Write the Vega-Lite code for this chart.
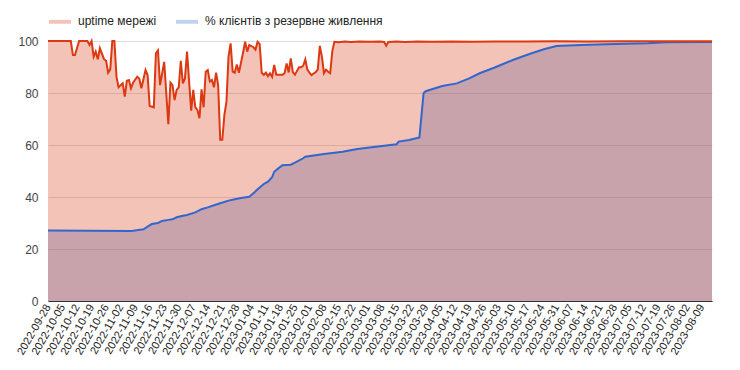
{
  "$schema": "https://vega.github.io/schema/vega-lite/v6.json",
  "width": 664,
  "height": 260,
  "autosize": {"type": "none"},
  "padding": {"left": 48, "top": 41, "right": 28, "bottom": 69},
  "background": "white",
  "config": {
    "view": {"stroke": null},
    "font": "Liberation Sans",
    "axis": {"labelFont": "Liberation Sans", "labelColor": "#444", "ticks": false, "gridColor": "#dddddd", "gridOpacity": 1},
    "legend": {"labelFont": "Liberation Sans", "labelColor": "#222", "labelFontSize": 12}
  },
  "datasets": {
    "uptime": [
      {"date": "2022-09-28", "value": 100}, {"date": "2022-10-09", "value": 100}, {"date": "2022-10-10", "value": 94.6}, {"date": "2022-10-11", "value": 94.6},
      {"date": "2022-10-13", "value": 100}, {"date": "2022-10-17", "value": 100}, {"date": "2022-10-18", "value": 98.5}, {"date": "2022-10-19", "value": 100},
      {"date": "2022-10-20", "value": 94}, {"date": "2022-10-21", "value": 95.9}, {"date": "2022-10-22", "value": 93}, {"date": "2022-10-23", "value": 97.2},
      {"date": "2022-10-25", "value": 93}, {"date": "2022-10-26", "value": 92.4}, {"date": "2022-10-27", "value": 87.8}, {"date": "2022-10-28", "value": 89.1},
      {"date": "2022-10-29", "value": 100}, {"date": "2022-10-30", "value": 100}, {"date": "2022-10-31", "value": 86.3}, {"date": "2022-11-01", "value": 82.2},
      {"date": "2022-11-03", "value": 83.7}, {"date": "2022-11-04", "value": 78.6}, {"date": "2022-11-05", "value": 84.7}, {"date": "2022-11-06", "value": 85},
      {"date": "2022-11-07", "value": 81.8}, {"date": "2022-11-08", "value": 84}, {"date": "2022-11-10", "value": 86.3}, {"date": "2022-11-11", "value": 85.6},
      {"date": "2022-11-12", "value": 81.8}, {"date": "2022-11-14", "value": 88.8}, {"date": "2022-11-15", "value": 86.9}, {"date": "2022-11-16", "value": 75},
      {"date": "2022-11-18", "value": 74.5}, {"date": "2022-11-19", "value": 95.3}, {"date": "2022-11-20", "value": 96.4}, {"date": "2022-11-21", "value": 83},
      {"date": "2022-11-23", "value": 92}, {"date": "2022-11-25", "value": 68}, {"date": "2022-11-26", "value": 84}, {"date": "2022-11-27", "value": 83},
      {"date": "2022-11-28", "value": 77.3}, {"date": "2022-11-29", "value": 81.2}, {"date": "2022-11-30", "value": 82.2}, {"date": "2022-12-01", "value": 92.4},
      {"date": "2022-12-02", "value": 83.7}, {"date": "2022-12-03", "value": 85.6}, {"date": "2022-12-04", "value": 95.9}, {"date": "2022-12-06", "value": 73.2},
      {"date": "2022-12-07", "value": 81.2}, {"date": "2022-12-08", "value": 74.5}, {"date": "2022-12-09", "value": 73.5}, {"date": "2022-12-10", "value": 70.3},
      {"date": "2022-12-11", "value": 81.4}, {"date": "2022-12-12", "value": 74.5}, {"date": "2022-12-13", "value": 88.2}, {"date": "2022-12-14", "value": 88.8},
      {"date": "2022-12-15", "value": 84.4}, {"date": "2022-12-16", "value": 85}, {"date": "2022-12-17", "value": 82.2}, {"date": "2022-12-18", "value": 87.8},
      {"date": "2022-12-19", "value": 83}, {"date": "2022-12-20", "value": 62}, {"date": "2022-12-21", "value": 62}, {"date": "2022-12-22", "value": 71.5},
      {"date": "2022-12-23", "value": 76.7}, {"date": "2022-12-24", "value": 94}, {"date": "2022-12-25", "value": 99.1}, {"date": "2022-12-26", "value": 88.2},
      {"date": "2022-12-27", "value": 87.8}, {"date": "2022-12-28", "value": 91}, {"date": "2022-12-29", "value": 87.8}, {"date": "2022-12-31", "value": 95.5},
      {"date": "2023-01-01", "value": 99.7}, {"date": "2023-01-02", "value": 95.9}, {"date": "2023-01-03", "value": 98.5}, {"date": "2023-01-05", "value": 97.6},
      {"date": "2023-01-06", "value": 96.7}, {"date": "2023-01-07", "value": 99.7}, {"date": "2023-01-08", "value": 98.8}, {"date": "2023-01-09", "value": 87.8},
      {"date": "2023-01-10", "value": 87}, {"date": "2023-01-11", "value": 87.8}, {"date": "2023-01-12", "value": 86.5}, {"date": "2023-01-13", "value": 87.6},
      {"date": "2023-01-14", "value": 86.2}, {"date": "2023-01-15", "value": 90.8}, {"date": "2023-01-16", "value": 87}, {"date": "2023-01-18", "value": 87},
      {"date": "2023-01-19", "value": 87}, {"date": "2023-01-20", "value": 87.6}, {"date": "2023-01-21", "value": 91.4}, {"date": "2023-01-22", "value": 87.9},
      {"date": "2023-01-23", "value": 93.3}, {"date": "2023-01-24", "value": 88}, {"date": "2023-01-25", "value": 87}, {"date": "2023-01-26", "value": 88.5},
      {"date": "2023-01-27", "value": 89.9}, {"date": "2023-01-28", "value": 89.9}, {"date": "2023-01-29", "value": 90.5}, {"date": "2023-01-30", "value": 92.9},
      {"date": "2023-01-31", "value": 89}, {"date": "2023-02-01", "value": 87.8}, {"date": "2023-02-02", "value": 86.9}, {"date": "2023-02-03", "value": 87.5},
      {"date": "2023-02-04", "value": 88}, {"date": "2023-02-05", "value": 89}, {"date": "2023-02-06", "value": 98.1}, {"date": "2023-02-07", "value": 94},
      {"date": "2023-02-08", "value": 87.6}, {"date": "2023-02-09", "value": 89}, {"date": "2023-02-10", "value": 88.2}, {"date": "2023-02-11", "value": 87.6},
      {"date": "2023-02-12", "value": 96}, {"date": "2023-02-13", "value": 99.7}, {"date": "2023-02-15", "value": 99.5}, {"date": "2023-02-18", "value": 99.8},
      {"date": "2023-02-21", "value": 99.6}, {"date": "2023-02-25", "value": 99.8}, {"date": "2023-03-02", "value": 99.7}, {"date": "2023-03-07", "value": 99.8},
      {"date": "2023-03-09", "value": 99.6}, {"date": "2023-03-10", "value": 98.2}, {"date": "2023-03-11", "value": 99.6}, {"date": "2023-03-15", "value": 99.8},
      {"date": "2023-03-19", "value": 99.6}, {"date": "2023-03-25", "value": 99.8}, {"date": "2023-04-01", "value": 99.7}, {"date": "2023-04-11", "value": 99.8},
      {"date": "2023-04-21", "value": 99.7}, {"date": "2023-05-01", "value": 99.8}, {"date": "2023-05-16", "value": 99.8}, {"date": "2023-05-31", "value": 99.9},
      {"date": "2023-06-15", "value": 99.8}, {"date": "2023-07-01", "value": 99.9}, {"date": "2023-07-15", "value": 99.9}, {"date": "2023-07-30", "value": 99.9},
      {"date": "2023-08-14", "value": 99.9}
    ],
    "backup": [
      {"date": "2022-09-28", "value": 27.1}, {"date": "2022-10-18", "value": 27.0}, {"date": "2022-11-07", "value": 26.9}, {"date": "2022-11-08", "value": 27.0},
      {"date": "2022-11-13", "value": 27.6}, {"date": "2022-11-15", "value": 28.6}, {"date": "2022-11-17", "value": 29.6}, {"date": "2022-11-20", "value": 30},
      {"date": "2022-11-22", "value": 30.8}, {"date": "2022-11-25", "value": 31.2}, {"date": "2022-11-27", "value": 31.4}, {"date": "2022-11-29", "value": 32.2},
      {"date": "2022-12-02", "value": 32.8}, {"date": "2022-12-04", "value": 33.1}, {"date": "2022-12-08", "value": 34.1}, {"date": "2022-12-11", "value": 35.3},
      {"date": "2022-12-14", "value": 36}, {"date": "2022-12-17", "value": 36.8}, {"date": "2022-12-20", "value": 37.6}, {"date": "2022-12-24", "value": 38.6},
      {"date": "2022-12-27", "value": 39.1}, {"date": "2022-12-30", "value": 39.6}, {"date": "2023-01-03", "value": 40.1}, {"date": "2023-01-05", "value": 41.4},
      {"date": "2023-01-07", "value": 43}, {"date": "2023-01-10", "value": 45}, {"date": "2023-01-12", "value": 45.9}, {"date": "2023-01-14", "value": 47.6},
      {"date": "2023-01-15", "value": 49.7}, {"date": "2023-01-17", "value": 51}, {"date": "2023-01-19", "value": 52.2}, {"date": "2023-01-23", "value": 52.4},
      {"date": "2023-01-25", "value": 53.2}, {"date": "2023-01-29", "value": 54.9}, {"date": "2023-01-30", "value": 55.5}, {"date": "2023-02-08", "value": 56.5},
      {"date": "2023-02-17", "value": 57.4}, {"date": "2023-02-24", "value": 58.5}, {"date": "2023-03-05", "value": 59.3}, {"date": "2023-03-15", "value": 60.3},
      {"date": "2023-03-16", "value": 61.3}, {"date": "2023-03-21", "value": 61.9}, {"date": "2023-03-26", "value": 62.9}, {"date": "2023-03-28", "value": 79.9},
      {"date": "2023-03-29", "value": 80.7}, {"date": "2023-04-06", "value": 82.7}, {"date": "2023-04-13", "value": 83.7}, {"date": "2023-04-19", "value": 85.6},
      {"date": "2023-04-24", "value": 87.6}, {"date": "2023-05-01", "value": 89.7}, {"date": "2023-05-10", "value": 92.7}, {"date": "2023-05-18", "value": 95},
      {"date": "2023-05-25", "value": 96.8}, {"date": "2023-05-31", "value": 98.1}, {"date": "2023-06-12", "value": 98.5}, {"date": "2023-06-28", "value": 98.8},
      {"date": "2023-07-14", "value": 99.1}, {"date": "2023-07-23", "value": 99.5}, {"date": "2023-08-14", "value": 99.6}
    ]
  },
  "encoding": {
    "x": {
      "field": "date", "type": "temporal",
      "scale": {"type": "utc", "nice": false, "domain": [{"year": 2022, "month": 9, "date": 28, "utc": true}, {"year": 2023, "month": 8, "date": 14, "utc": true}]},
      "axis": {
        "title": null, "format": "%Y-%m-%d", "labelAngle": -60, "labelFontSize": 11, "labelOverlap": false, "labelPadding": 4,
        "grid": false, "domain": true, "domainColor": "#333333", "domainWidth": 1, "labelColor": "#222",
        "values": [
          {"year": 2022, "month": 9, "date": 28, "utc": true}, {"year": 2022, "month": 10, "date": 5, "utc": true}, {"year": 2022, "month": 10, "date": 12, "utc": true},
          {"year": 2022, "month": 10, "date": 19, "utc": true}, {"year": 2022, "month": 10, "date": 26, "utc": true}, {"year": 2022, "month": 11, "date": 2, "utc": true},
          {"year": 2022, "month": 11, "date": 9, "utc": true}, {"year": 2022, "month": 11, "date": 16, "utc": true}, {"year": 2022, "month": 11, "date": 23, "utc": true},
          {"year": 2022, "month": 11, "date": 30, "utc": true}, {"year": 2022, "month": 12, "date": 7, "utc": true}, {"year": 2022, "month": 12, "date": 14, "utc": true},
          {"year": 2022, "month": 12, "date": 21, "utc": true}, {"year": 2022, "month": 12, "date": 28, "utc": true}, {"year": 2023, "month": 1, "date": 4, "utc": true},
          {"year": 2023, "month": 1, "date": 11, "utc": true}, {"year": 2023, "month": 1, "date": 18, "utc": true}, {"year": 2023, "month": 1, "date": 25, "utc": true},
          {"year": 2023, "month": 2, "date": 1, "utc": true}, {"year": 2023, "month": 2, "date": 8, "utc": true}, {"year": 2023, "month": 2, "date": 15, "utc": true},
          {"year": 2023, "month": 2, "date": 22, "utc": true}, {"year": 2023, "month": 3, "date": 1, "utc": true}, {"year": 2023, "month": 3, "date": 8, "utc": true},
          {"year": 2023, "month": 3, "date": 15, "utc": true}, {"year": 2023, "month": 3, "date": 22, "utc": true}, {"year": 2023, "month": 3, "date": 29, "utc": true},
          {"year": 2023, "month": 4, "date": 5, "utc": true}, {"year": 2023, "month": 4, "date": 12, "utc": true}, {"year": 2023, "month": 4, "date": 19, "utc": true},
          {"year": 2023, "month": 4, "date": 26, "utc": true}, {"year": 2023, "month": 5, "date": 3, "utc": true}, {"year": 2023, "month": 5, "date": 10, "utc": true},
          {"year": 2023, "month": 5, "date": 17, "utc": true}, {"year": 2023, "month": 5, "date": 24, "utc": true}, {"year": 2023, "month": 5, "date": 31, "utc": true},
          {"year": 2023, "month": 6, "date": 7, "utc": true}, {"year": 2023, "month": 6, "date": 14, "utc": true}, {"year": 2023, "month": 6, "date": 21, "utc": true},
          {"year": 2023, "month": 6, "date": 28, "utc": true}, {"year": 2023, "month": 7, "date": 5, "utc": true}, {"year": 2023, "month": 7, "date": 12, "utc": true},
          {"year": 2023, "month": 7, "date": 19, "utc": true}, {"year": 2023, "month": 7, "date": 26, "utc": true}, {"year": 2023, "month": 8, "date": 2, "utc": true},
          {"year": 2023, "month": 8, "date": 9, "utc": true}
        ]
      }
    },
    "y": {
      "field": "value", "type": "quantitative",
      "scale": {"domain": [0, 100], "nice": false},
      "axis": {"title": null, "values": [0, 20, 40, 60, 80, 100], "domain": false, "labelFontSize": 12, "labelPadding": 10, "gridColor": "#dddddd"}
    }
  },
  "layer": [
    {
      "data": {"name": "backup"},
      "mark": {"type": "area", "opacity": 0.3},
      "encoding": {
        "color": {
          "datum": "% клієнтів з резервне живлення", "type": "nominal",
          "scale": {"domain": ["uptime мережі", "% клієнтів з резервне живлення"], "range": ["#dc3912", "#3366cc"]},
          "legend": {"title": null, "orient": "none", "legendX": 0, "legendY": -32, "direction": "horizontal", "labelLimit": 400,
            "symbolType": "M-1,-0.1H1V0.25H-1Z", "symbolSize": 484, "labelOffset": 6, "columnPadding": 18,
            "encode": {"symbols": {"update": {"opacity": {"value": 1}, "fillOpacity": {"value": 0.35}, "stroke": {"scale": "color", "field": "value"}, "strokeWidth": {"value": 1.5}}}}}
        }
      }
    },
    {
      "data": {"name": "uptime"},
      "mark": {"type": "area", "opacity": 0.3},
      "encoding": {"color": {"datum": "uptime мережі", "type": "nominal"}}
    },
    {
      "data": {"name": "backup"},
      "mark": {"type": "line", "color": "#3366cc", "strokeWidth": 2},
      "encoding": {}
    },
    {
      "data": {"name": "uptime"},
      "mark": {"type": "line", "color": "#dc3912", "strokeWidth": 2},
      "encoding": {}
    }
  ]
}
